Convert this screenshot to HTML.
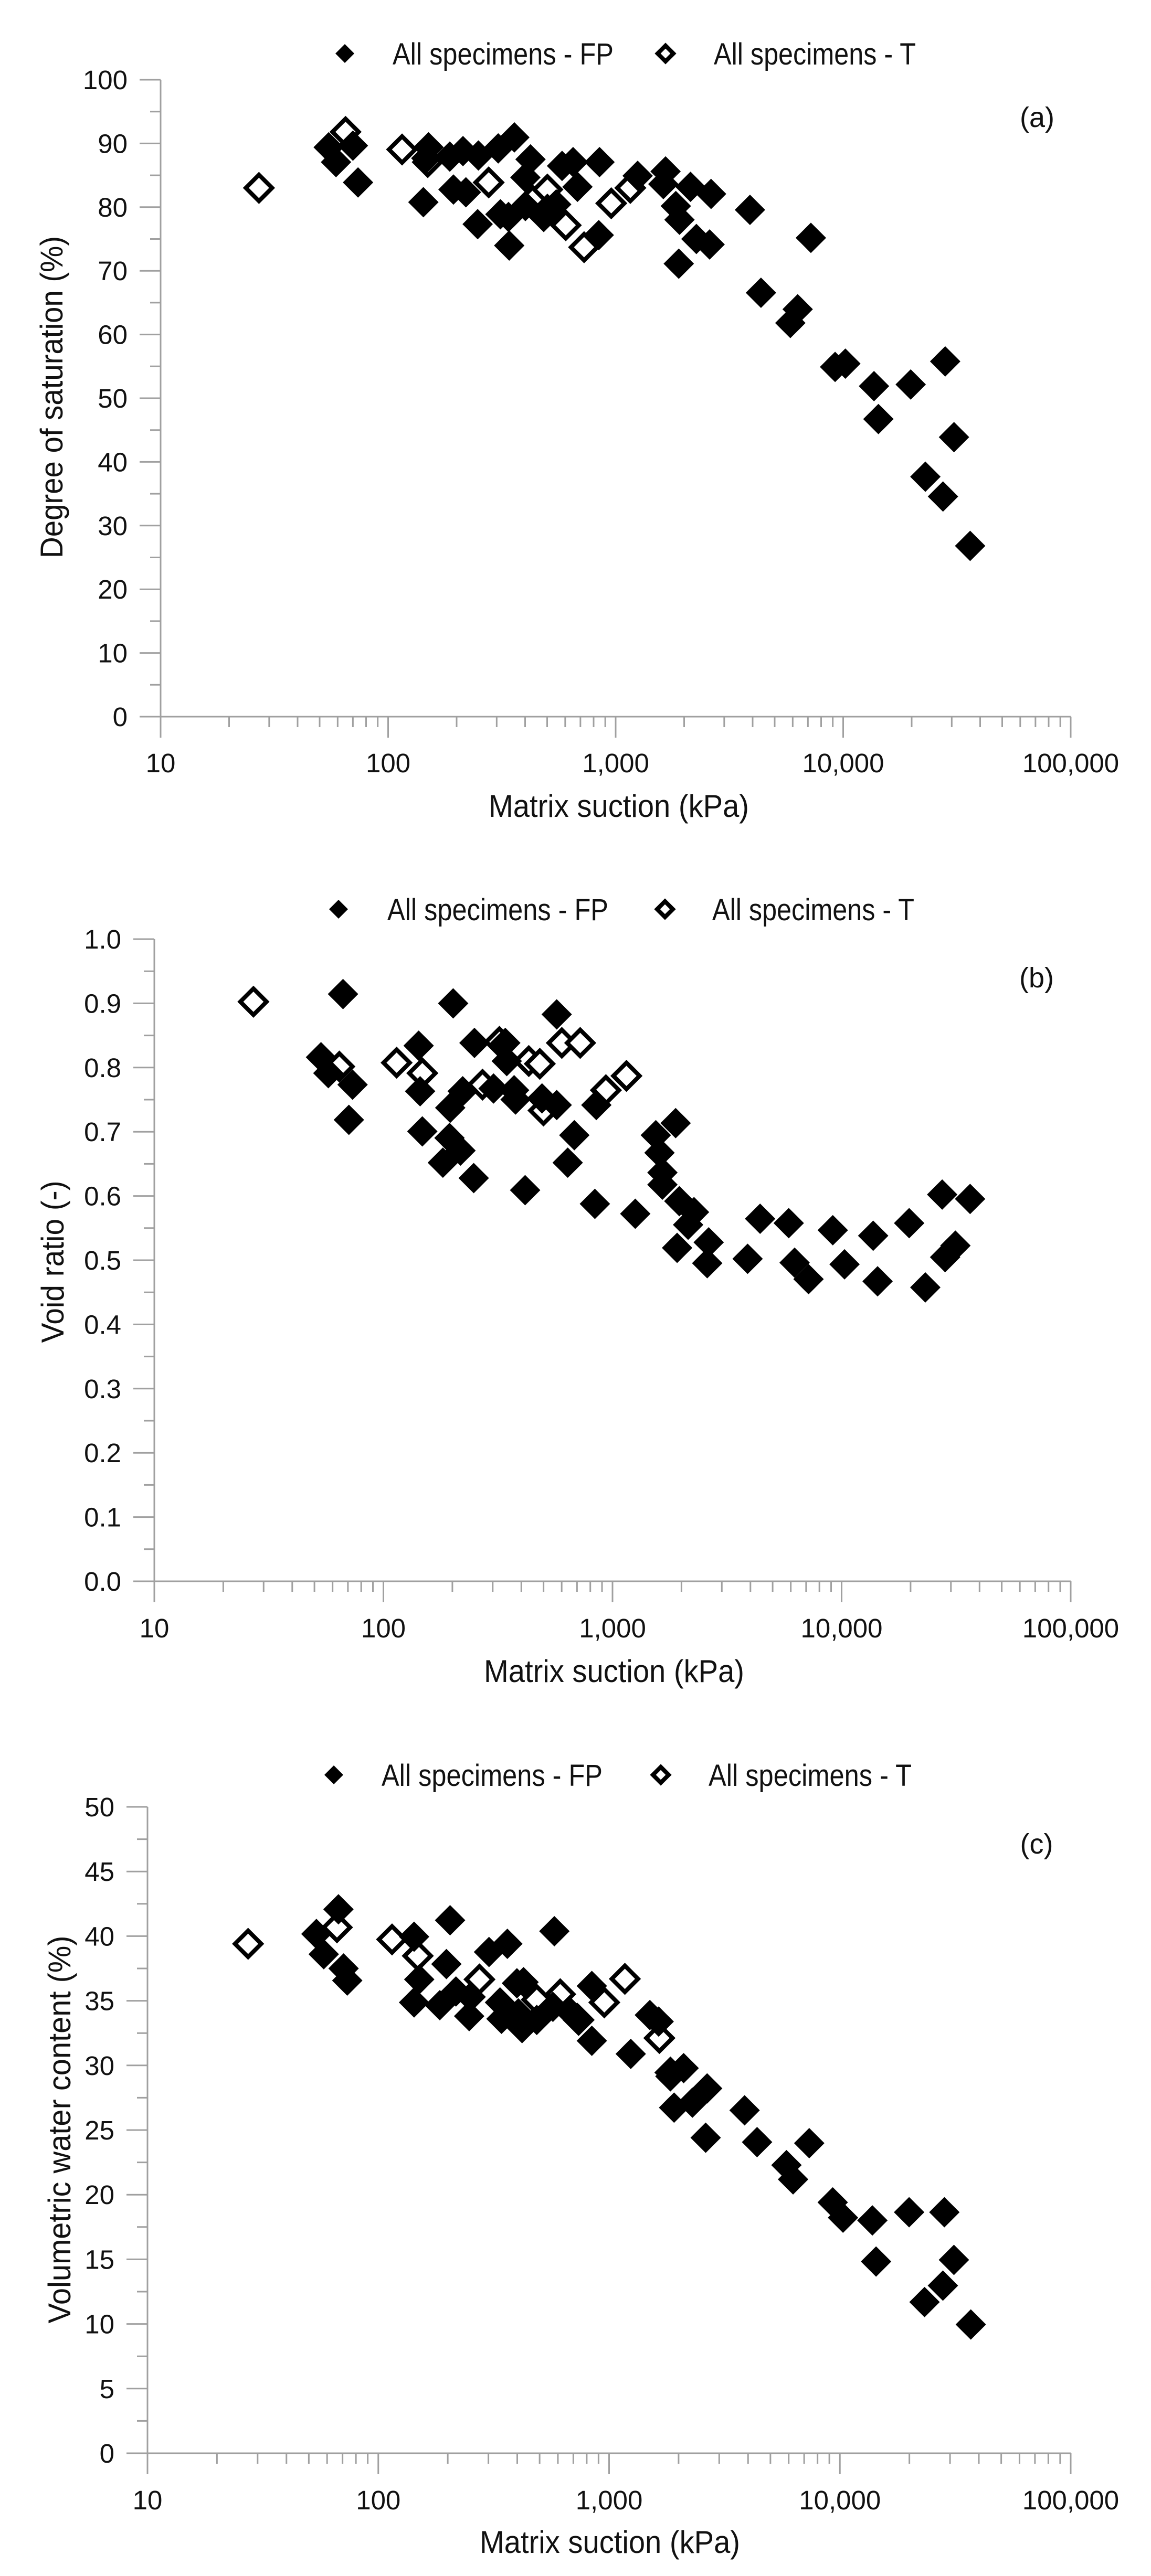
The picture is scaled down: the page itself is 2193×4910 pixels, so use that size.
<!DOCTYPE html>
<html><head><meta charset="utf-8"><style>
html,body{margin:0;padding:0;background:#fff;}
svg{display:block;}
text{font-family:"Liberation Sans",Arial,sans-serif;fill:#111;}
</style></head><body>
<svg id="s" width="2193" height="4910" xmlns="http://www.w3.org/2000/svg">
<rect width="2193" height="4910" fill="#fff"/>
<g id="g"></g>
<!-- Panel a texts -->
<text x="748" y="123" font-size="58" textLength="421" lengthAdjust="spacingAndGlyphs">All specimens - FP</text>
<text x="1360" y="123" font-size="58" textLength="385" lengthAdjust="spacingAndGlyphs">All specimens - T</text>
<text x="1976" y="242" font-size="54" text-anchor="middle">(a)</text>
<text x="1179" y="1557" font-size="60" text-anchor="middle" textLength="496" lengthAdjust="spacingAndGlyphs">Matrix suction (kPa)</text>
<text transform="translate(119,757) rotate(-90)" font-size="60" text-anchor="middle" textLength="614" lengthAdjust="spacingAndGlyphs">Degree of saturation (%)</text>
<!-- Panel b texts -->
<text x="738" y="1754" font-size="58" textLength="421" lengthAdjust="spacingAndGlyphs">All specimens - FP</text>
<text x="1357" y="1754" font-size="58" textLength="385" lengthAdjust="spacingAndGlyphs">All specimens - T</text>
<text x="1975" y="1882" font-size="54" text-anchor="middle">(b)</text>
<text x="1170" y="3206" font-size="60" text-anchor="middle" textLength="496" lengthAdjust="spacingAndGlyphs">Matrix suction (kPa)</text>
<text transform="translate(121,2405) rotate(-90)" font-size="60" text-anchor="middle" textLength="309" lengthAdjust="spacingAndGlyphs">Void ratio (-)</text>
<!-- Panel c texts -->
<text x="727" y="3404" font-size="58" textLength="421" lengthAdjust="spacingAndGlyphs">All specimens - FP</text>
<text x="1350" y="3404" font-size="58" textLength="387" lengthAdjust="spacingAndGlyphs">All specimens - T</text>
<text x="1975" y="3533" font-size="54" text-anchor="middle">(c)</text>
<text x="1162" y="4866" font-size="60" text-anchor="middle" textLength="496" lengthAdjust="spacingAndGlyphs">Matrix suction (kPa)</text>
<text transform="translate(134,4059) rotate(-90)" font-size="60" text-anchor="middle" textLength="739" lengthAdjust="spacingAndGlyphs">Volumetric water content (%)</text>
</svg>
<script>
(function(){
var NS="http://www.w3.org/2000/svg",g=document.getElementById("g");
function el(n,a,t){var e=document.createElementNS(NS,n);for(var k in a)e.setAttribute(k,a[k]);if(t!==undefined)e.textContent=t;g.appendChild(e);return e;}
function dia(x,y,h,open){
 if(open){var r=h-4;el("path",{d:"M"+x+","+(y-r)+"L"+(x+r)+","+y+"L"+x+","+(y+r)+"L"+(x-r)+","+y+"Z",fill:"#fff",stroke:"#000","stroke-width":8,"stroke-linejoin":"miter"});}
 else el("path",{d:"M"+x+","+(y-h)+"L"+(x+h)+","+y+"L"+x+","+(y+h)+"L"+(x-h)+","+y+"Z",fill:"#000"});
}
var panels=[
 {x0:306,x1:2040,y0:1366,y1:152,n:10,fmt:function(i){return String(i*10);},lx:1472,legY:102,lm:[657,1268],
  zx:[218,1458],zy:[1305,145],zoff:0,
  O:[[352,342],[470,240],[547,272],[582,295],[665,332],[725,365],[745,345],[770,410],[795,450],[832,370],[858,342]],
  F:[[447,268],[457,295],[480,265],[487,332],[576,368],[580,288],[583,268],[612,285],[617,345],[630,275],[634,350],[650,408],[651,283],[678,270],[681,390],[692,395],[693,447],[700,250],[715,323],[722,290],[715,375],[740,395],[745,380],[757,372],[765,302],[780,295],[786,340],[815,428],[816,295],[868,320],[906,312],[903,335],[920,375],[925,400],[924,480],[940,340],[948,435],[966,445],[968,353],[1021,382],[1036,533],[1076,588],[1086,563],[1104,433],[1137,668],[1151,662],[1190,703],[1196,763],[1240,700],[1260,868],[1284,904],[1287,658],[1299,796],[1321,994]]},
 {x0:294,x1:2040,y0:3014,y1:1790,n:10,fmt:function(i){return (i/10).toFixed(1);},lx:3121,legY:1733,lm:[645,1267],
  zx:[210,1458],zy:[1352,183],
  O:[[345,297],[462,415],[540,408],[575,427],[657,448],[680,370],[720,405],[735,410],[740,495],[765,372],[790,372],[825,458],[853,432]],
  F:[[437,398],[447,427],[467,283],[475,512],[480,448],[570,377],[572,460],[575,533],[603,590],[612,545],[613,490],[617,300],[627,568],[630,460],[645,618],[646,372],[672,455],[688,372],[690,405],[700,458],[702,475],[715,640],[738,473],[758,320],[758,485],[773,590],[782,540],[810,665],[812,485],[865,683],[893,540],[898,572],[902,630],[902,608],[920,518],[922,745],[925,660],[937,703],[945,680],[965,735],[963,773],[1018,765],[1035,692],[1074,700],[1082,772],[1101,802],[1134,713],[1150,775],[1189,723],[1195,806],[1238,700],[1260,817],[1283,648],[1287,762],[1301,741],[1321,656]]},
 {x0:281,x1:2040,y0:4676,y1:3444,n:10,fmt:function(i){return String(i*5);},lx:4783,legY:3383,lm:[636,1259],
  zx:[200,1457],zy:[1343,163],
  O:[[337,413],[458,383],[533,405],[568,435],[652,478],[730,515],[762,505],[787,552],[822,520],[850,477],[897,585],[912,648]],
  F:[[430,395],[440,432],[460,350],[467,458],[472,480],[563,400],[563,520],[570,478],[598,525],[607,450],[612,370],[620,500],[638,545],[640,510],[665,428],[680,520],[682,550],[690,413],[703,485],[705,540],[712,483],[710,567],[730,552],[752,528],[754,390],[775,537],[785,548],[805,590],[805,490],[858,614],[884,543],[896,555],[912,655],[917,712],[930,640],[942,703],[962,677],[960,767],[1013,717],[1030,775],[1070,817],[1079,843],[1101,777],[1133,885],[1147,913],[1187,918],[1192,993],[1237,903],[1258,1067],[1283,1037],[1285,903],[1298,990],[1321,1108]]}
];
var xl=["10","100","1,000","10,000","100,000"];
panels.forEach(function(p){
 var c="#a0a0a0",sw=3;
 el("line",{x1:p.x0,y1:p.y0,x2:p.x1,y2:p.y0,stroke:c,"stroke-width":sw});
 el("line",{x1:p.x0,y1:p.y0,x2:p.x0,y2:p.y1,stroke:c,"stroke-width":sw});
 var dy=(p.y0-p.y1)/p.n;
 for(var i=0;i<=p.n;i++){var y=p.y0-i*dy;
  el("line",{x1:p.x0-40,y1:y,x2:p.x0,y2:y,stroke:c,"stroke-width":sw});
  el("text",{x:p.x0-63,y:y+18,"font-size":51,"text-anchor":"end"},p.fmt(i));
  if(i<p.n){var ym=y-dy/2;el("line",{x1:p.x0-20,y1:ym,x2:p.x0,y2:ym,stroke:c,"stroke-width":sw});}
 }
 var dec=(p.x1-p.x0)/4;
 for(var d=0;d<=4;d++){var x=p.x0+d*dec;
  el("line",{x1:x,y1:p.y0,x2:x,y2:p.y0+40,stroke:c,"stroke-width":sw});
  el("text",{x:x,y:p.lx,"font-size":51,"text-anchor":"middle"},xl[d]);
  if(d<4)for(var m=2;m<=9;m++){var xm=x+Math.log10(m)*dec;el("line",{x1:xm,y1:p.y0,x2:xm,y2:p.y0+20,stroke:c,"stroke-width":sw});}
 }
 function mx(z){return p.x0+(z-p.zx[0])*(p.x1-p.x0)/(p.zx[1]-p.zx[0]);}
 function my(z){return p.y0+(z-p.zy[0])*(p.y1-p.y0)/(p.zy[1]-p.zy[0]);}
 p.O.forEach(function(q){dia(mx(q[0]),my(q[1]),29,true);});
 p.F.forEach(function(q){dia(mx(q[0]),my(q[1]),29,false);});
 dia(p.lm[0],p.legY,18,false);
 dia(p.lm[1],p.legY,19,true);
});
})();
</script>
</body></html>
